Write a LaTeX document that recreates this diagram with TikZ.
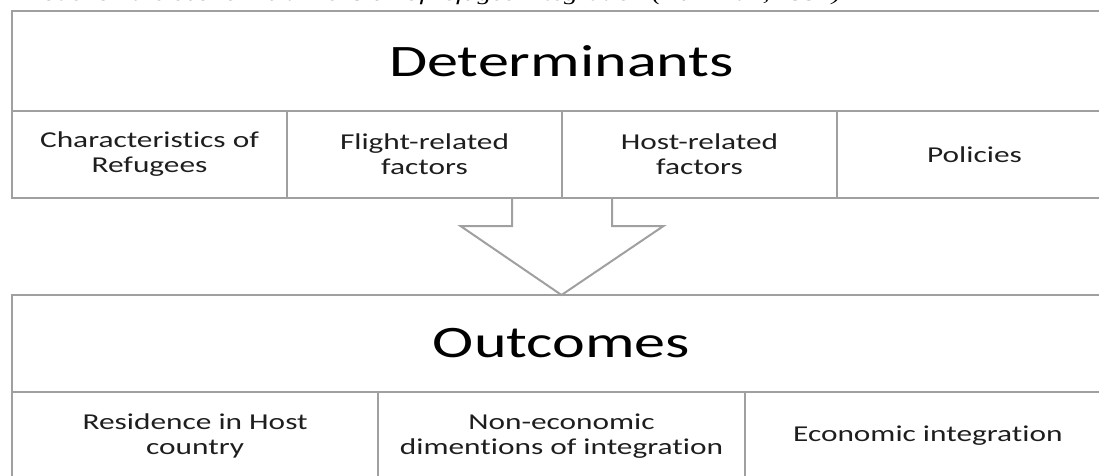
\documentclass[tikz,border=0pt]{standalone}
\usepackage{fontspec}
\setmainfont{Carlito}
\newfontfamily\carl[FakeStretch=1.38, Ligatures={NoCommon}]{Carlito}
\newfontfamily\capfont{Liberation Serif}
\usetikzlibrary{calc}
\definecolor{linegray}{RGB}{160,160,160}
\definecolor{txt}{RGB}{30,30,30}
\begin{document}
\begin{tikzpicture}[x=1pt,y=-1pt,
  box/.style={draw=linegray, line width=2pt, inner sep=0pt, outer sep=0pt},
  hdr/.style={box, font=\carl\fontsize{45}{54}\selectfont, text=black},
  cell/.style={box, font=\carl\fontsize{22.7}{25}\selectfont, align=center, text=txt},
  arrowline/.style={draw=linegray, line width=2pt, line join=miter}]
\useasboundingbox (0,0) rectangle (1099,475);
\clip (0,0) rectangle (1099,475);
% caption (cut off at the top edge, as in the reference)
\node[anchor=base west, inner sep=0pt, text=black, font=\capfont\itshape\fontsize{20}{24}\selectfont] (cap) at (20,0.8)
  {\scalebox{1.38}[1]{Model on the economic dimension of refugee integration (Kuhlman, 1991)}};
% determinants
\node[hdr, minimum width=1099pt, minimum height=100pt] (det) at (561.5,61) {Determinants};
\node[cell, minimum width=275pt, minimum height=87pt] (c1) at (149.5,154.5) {Characteristics of\\Refugees};
\node[cell, minimum width=275pt, minimum height=87pt] (c2) at (424.5,154.5) {Flight-related\\factors};
\node[cell, minimum width=275pt, minimum height=87pt] (c3) at (699.5,154.5) {Host-related\\factors};
\node[cell, minimum width=275pt, minimum height=87pt] (c4) at (974.5,154.5) {Policies};
% outcomes
\node[hdr, minimum width=1099pt, minimum height=97pt] (out) at (561.5,343.5) {Outcomes};
\node[cell, minimum width=366.33pt, minimum height=88pt] (o1) at (195.17,436) {Residence in Host\\country};
\node[cell, minimum width=366.33pt, minimum height=88pt] (o2) at (561.5,436) {Non-economic\\dimentions of integration};
\node[cell, minimum width=366.33pt, minimum height=88pt] (o3) at (927.83,436) {Economic integration};
% block arrow
\coordinate (mid) at (c2.south east);
\draw[arrowline] ($(mid)+(-50,0)$) -- ++(0,28) -- ++(-51.5,0) -- (out.north)
  -- ($(mid)+(101.5,28)$) -- ($(mid)+(50,28)$) -- ($(mid)+(50,0)$);
\end{tikzpicture}
\end{document}
